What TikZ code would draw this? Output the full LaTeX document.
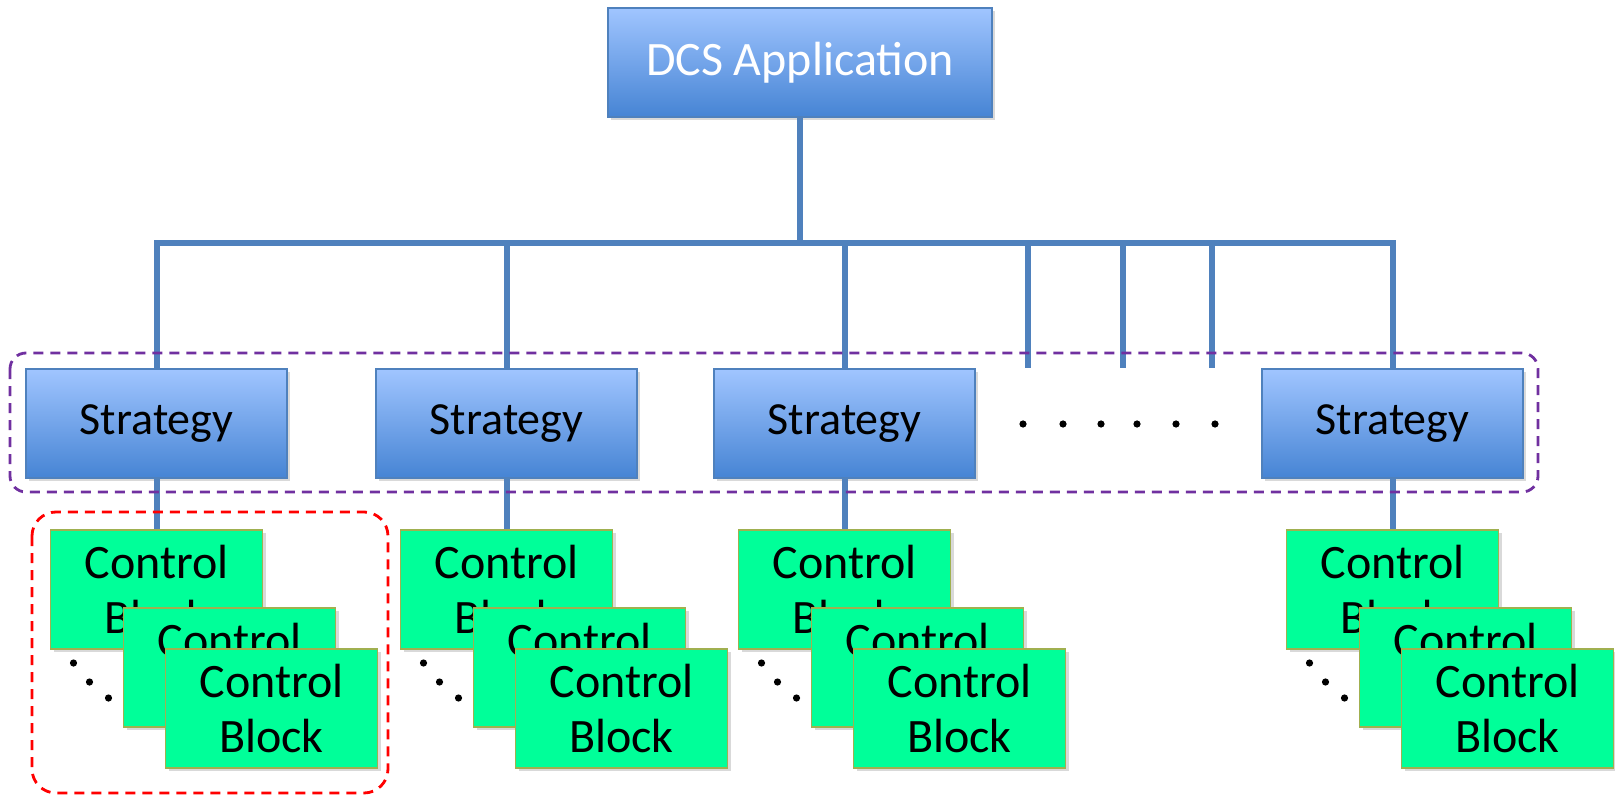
\documentclass[tikz,border=0pt]{standalone}
\usepackage{fontspec}
\setmainfont{Carlito}
\usetikzlibrary{shadows}

\definecolor{lineblue}{HTML}{4F81BD}
\definecolor{stratop}{HTML}{A0C5FF}
\definecolor{stratbot}{HTML}{4684D4}
\definecolor{cbgreen}{HTML}{00FF99}
\definecolor{cbedge}{HTML}{A0B050}
\definecolor{groupviolet}{HTML}{7030A0}

\tikzset{
    bluebox/.style={draw=lineblue, line width=1pt, top color=stratop, bottom color=stratbot,
        inner sep=0pt, font=\fontsize{23}{27.6}\selectfont,
        drop shadow={shadow xshift=1.5pt, shadow yshift=-1.5pt, opacity=0.3}},
    cbbox/.style={draw=cbedge, line width=0.8pt, fill=cbgreen, align=center,
        minimum width=106pt, minimum height=59.5pt, inner sep=0pt,
        font=\fontsize{24}{27.6}\selectfont,
        drop shadow={shadow xshift=1.5pt, shadow yshift=-1.5pt, opacity=0.3}},
    busline/.style={draw=lineblue, line width=3pt},
    groupline/.style={dashed, dash pattern=on 5pt off 3.5pt, line width=1.4pt}
}

\begin{document}
\begin{tikzpicture}[x=0.5pt, y=-0.5pt]
        \useasboundingbox (0,0) rectangle (1615,796);

        % top of the tree
        \node[bluebox, text=white, font=\fontsize{24}{28}\selectfont, minimum width=192pt, minimum height=54.5pt] (dcs) at (800,62.5) {DCS Application};
        \coordinate (bus) at (800,243);

        % strategies with their control blocks
        \foreach \i/\x in {1/156.5, 2/506.5, 3/844.5, 4/1392.5} {
            \node[bluebox, minimum width=130.5pt, minimum height=54.5pt] (s\i) at (\x,423.5) {Strategy};
            \node[cbbox] (ctlA\i) at (\x,589.5) {Control\\Block};
            \node[cbbox] (ctlB\i) at (\x+73,667.5) {Control\\Block};
            \node[cbbox] (ctlC\i) at (\x+115,708.5) {Control\\Block};
            \fill (\x-83,663) circle (1.8pt);
            \fill (\x-67,682) circle (1.8pt);
            \fill (\x-48,698) circle (1.8pt);
            \draw[busline] (bus) -| (s\i.north);
            \draw[busline] (s\i.south) -- (ctlA\i.north);
        }
        \draw[busline] (dcs.south) -- (bus);

        % the ones left out
        \coordinate (tick1) at (1028,368);
        \coordinate (tick2) at (1123,368);
        \coordinate (tick3) at (1212,368);
        \draw[busline] (bus) -| (tick1);
        \draw[busline] (bus) -| (tick2);
        \draw[busline] (bus) -| (tick3);
        \foreach \x in {1023,1063,1101,1137,1176,1215}
            \fill (\x,424) circle (1.8pt);

        % groups
        \draw[groupline, groupviolet, rounded corners=8pt] (10,353) rectangle (1538,492);
        \draw[groupline, red, rounded corners=12pt] (32,512) rectangle (388,793);
    \end{tikzpicture}
\end{document}
